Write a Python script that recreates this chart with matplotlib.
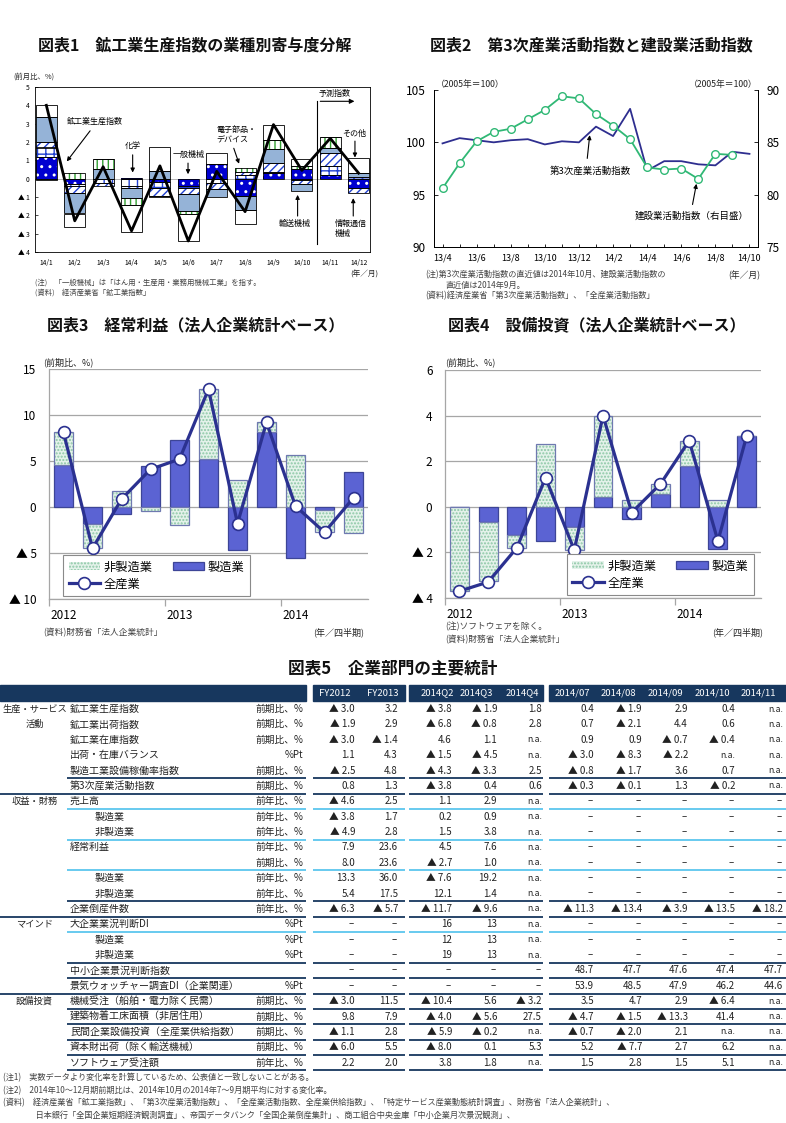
import numpy as np
import matplotlib
matplotlib.use('Agg')
import matplotlib.pyplot as plt
from matplotlib.patches import Rectangle

plt.rcParams['font.family'] = ['Noto Sans CJK JP', 'DejaVu Sans']
plt.rcParams['hatch.linewidth'] = 1.0
plt.rcParams['axes.unicode_minus'] = False

# ---------------- data ----------------
# Chart 1: contributions (%pt), 14/1 .. 14/12
c1_months = ['14/1', '14/2', '14/3', '14/4', '14/5', '14/6', '14/7', '14/8', '14/9', '14/10', '14/11', '14/12']
c1_general = [1.2, -0.3, 0.0, 0.05, -0.2, -0.4, 0.8, -0.95, 0.3, 0.55, 0.2, -0.5]      # 一般機械
c1_chemical = [0.5, -0.1, -0.25, -0.4, -0.3, -0.1, -0.25, 0.2, 0.05, -0.05, 0.5, 0.1]  # 化学
c1_ict = [0.3, -0.4, -0.15, -0.1, -0.45, -0.35, -0.3, 0.15, 0.5, -0.25, 0.7, -0.3]     # 情報通信機械
c1_transport = [1.35, -1.1, 0.55, -0.55, 0.4, -0.9, -0.45, -0.75, 0.75, -0.35, 0.25, 0.2]  # 輸送機械
c1_electronic = [-0.1, 0.3, 0.5, -0.4, -0.05, -0.2, 0.0, 0.25, 0.5, 0.15, 0.6, 0.0]  # 電子部品・デバイス
c1_other = [0.65, -0.75, 0.0, -1.45, 1.3, -1.45, 0.6, -0.8, 0.85, 0.35, 0.0, 0.8]     # その他
c1_total = [4.0, -2.3, 0.65, -2.85, 0.7, -3.4, 0.4, -1.8, 2.95, 0.45, 2.2, 0.3]       # 鉱工業生産指数

# Chart 2
c2_months = ['13/4', '13/5', '13/6', '13/7', '13/8', '13/9', '13/10', '13/11', '13/12',
             '14/1', '14/2', '14/3', '14/4', '14/5', '14/6', '14/7', '14/8', '14/9', '14/10']
c2_tertiary = [99.9, 100.4, 100.2, 100.0, 100.2, 100.3, 99.8, 100.1, 100.0,
               101.5, 100.6, 103.2, 97.3, 98.2, 98.2, 97.9, 97.8, 99.1, 98.9]
c2_construction = [80.6, 83.0, 85.1, 86.0, 86.3, 87.2, 88.1, 89.4, 89.2,
                   87.7, 86.6, 85.3, 82.6, 82.4, 82.5, 81.5, 83.9, 83.8]

# Chart 3 / 4 : quarters 2012Q1 .. 2014Q3
q_years = ['2012', '2013', '2014']
c3_manu = [4.6, -1.8, -0.8, 4.5, 7.3, 5.25, -4.7, 8.2, -5.5, -0.3, 3.8]
c3_nonmanu = [3.5, -2.7, 1.7, -0.4, -2.0, 7.55, 2.9, 1.0, 5.6, -2.45, -2.8]
c3_all = [8.1, -4.5, 0.85, 4.1, 5.2, 12.8, -1.8, 9.2, 0.1, -2.75, 1.0]
c4_manu = [0.0, -0.65, -1.25, -1.5, -0.9, 0.45, -0.55, 0.55, 1.8, -1.85, 3.1]
c4_nonmanu = [-3.7, -2.6, -0.55, 2.75, -1.0, 3.55, 0.3, 0.45, 1.1, 0.3, 0.0]
c4_all = [-3.7, -3.3, -1.8, 1.28, -1.9, 4.0, -0.25, 1.0, 2.9, -1.5, 3.1]

# Table 5
NA = 'n.a.'
t_cols = ['FY2012', 'FY2013', '2014Q2', '2014Q3', '2014Q4', '2014/07', '2014/08', '2014/09', '2014/10', '2014/11']
t_labels = ['鉱工業生産指数', '鉱工業出荷指数', '鉱工業在庫指数', '出荷・在庫バランス', '製造工業設備稼働率指数',
            '第3次産業活動指数', '売上高', '製造業', '非製造業', '経常利益', '', '製造業', '非製造業',
            '企業倒産件数', '大企業業況判断DI', '製造業', '非製造業', '中小企業景況判断指数',
            '景気ウォッチャー調査DI（企業関連）', '機械受注（船舶・電力除く民需）', '建築物着工床面積（非居住用）',
            '民間企業設備投資（全産業供給指数）', '資本財出荷（除く輸送機械）', 'ソフトウェア受注額']
t_indent = [0, 0, 0, 0, 0, 0, 0, 1, 1, 0, 0, 1, 1, 0, 0, 1, 1, 0, 0, 0, 0, 0, 0, 0]
t_units = ['前期比、%', '前期比、%', '前期比、%', '%Pt', '前期比、%', '前期比、%', '前年比、%', '前年比、%',
           '前年比、%', '前年比、%', '前期比、%', '前年比、%', '前年比、%', '前年比、%', '%Pt', '%Pt', '%Pt',
           '', '%Pt', '前期比、%', '前期比、%', '前期比、%', '前期比、%', '前年比、%']
t_groups = {0: '生産・サービス', 1: '活動', 6: '収益・財務', 14: 'マインド', 19: '設備投資'}
D = None
t_fy2012 = [-3.0, -1.9, -3.0, 1.1, -2.5, 0.8, -4.6, -3.8, -4.9, 7.9, 8.0, 13.3, 5.4, -6.3, D, D, D, D, D, -3.0, 9.8, -1.1, -6.0, 2.2]
t_fy2013 = [3.2, 2.9, -1.4, 4.3, 4.8, 1.3, 2.5, 1.7, 2.8, 23.6, 23.6, 36.0, 17.5, -5.7, D, D, D, D, D, 11.5, 7.9, 2.8, 5.5, 2.0]
t_q2 = [-3.8, -6.8, 4.6, -1.5, -4.3, -3.8, 1.1, 0.2, 1.5, 4.5, -2.7, -7.6, 12.1, -11.7, 16, 12, 19, D, D, -10.4, -4.0, -5.9, -8.0, 3.8]
t_q3 = [-1.9, -0.8, 1.1, -4.5, -3.3, 0.4, 2.9, 0.9, 3.8, 7.6, 1.0, 19.2, 1.4, -9.6, 13, 13, 13, D, D, 5.6, -5.6, -0.2, 0.1, 1.8]
t_q4 = [1.8, 2.8, NA, NA, 2.5, 0.6, NA, NA, NA, NA, NA, NA, NA, NA, NA, NA, NA, D, D, -3.2, 27.5, NA, 5.3, NA]
t_m07 = [0.4, 0.7, 0.9, -3.0, -0.8, -0.3, D, D, D, D, D, D, D, -11.3, D, D, D, 48.7, 53.9, 3.5, -4.7, -0.7, 5.2, 1.5]
t_m08 = [-1.9, -2.1, 0.9, -8.3, -1.7, -0.1, D, D, D, D, D, D, D, -13.4, D, D, D, 47.7, 48.5, 4.7, -1.5, -2.0, -7.7, 2.8]
t_m09 = [2.9, 4.4, -0.7, -2.2, 3.6, 1.3, D, D, D, D, D, D, D, -3.9, D, D, D, 47.6, 47.9, 2.9, -13.3, 2.1, 2.7, 1.5]
t_m10 = [0.4, 0.6, -0.4, NA, 0.7, -0.2, D, D, D, D, D, D, D, -13.5, D, D, D, 47.4, 46.2, -6.4, 41.4, NA, 6.2, 5.1]
t_m11 = [NA, NA, NA, NA, NA, NA, D, D, D, D, D, D, D, -18.2, D, D, D, 47.7, 44.6, NA, NA, NA, NA, NA]
t_data = [t_fy2012, t_fy2013, t_q2, t_q3, t_q4, t_m07, t_m08, t_m09, t_m10, t_m11]

# ---------------- figure ----------------
W, H = 786, 1123
fig = plt.figure(figsize=(W / 100, H / 100), dpi=100)
ov = fig.add_axes([0, 0, 1, 1])
ov.set_xlim(0, W)
ov.set_ylim(H, 0)
ov.axis('off')


def add_ax(x0, y0, x1, y1):
    return fig.add_axes([x0 / W, 1 - y1 / H, (x1 - x0) / W, (y1 - y0) / H])


def tri(v):
    if isinstance(v, int):
        return f'▲ {abs(v)}' if v < 0 else f'{v}'
    return f'▲ {abs(v):.1f}' if v < 0 else f'{v:.1f}'


def tri_tick(v):
    return f'▲ {abs(v):g}' if v < 0 else f'{v:g}'


TXT = '#222222'
# titles
ov.text(38, 45, '図表1　鉱工業生産指数の業種別寄与度分解', fontsize=11.5, fontweight='bold', va='center', color='#111')
ov.text(430, 45, '図表2　第3次産業活動指数と建設業活動指数', fontsize=11.5, fontweight='bold', va='center', color='#111')
ov.text(47, 325, '図表3　経常利益（法人企業統計ベース）', fontsize=11.5, fontweight='bold', va='center', color='#111')
ov.text(448, 325, '図表4　設備投資（法人企業統計ベース）', fontsize=11.5, fontweight='bold', va='center', color='#111')
ov.text(393, 668, '図表5　企業部門の主要統計', fontsize=12, fontweight='bold', va='center', ha='center', color='#111')

# ---------------- chart 1 ----------------
ax1 = add_ax(35, 87, 370, 252)
x1 = np.arange(len(c1_months))
pos = np.zeros(len(x1))
neg = np.zeros(len(x1))
c1_styles = [
    (c1_general, '#0000d0', '..', 'white'),
    (c1_chemical, 'white', '++', '#2040d0'),
    (c1_ict, 'white', '////', '#2040d0'),
    (c1_transport, '#95b3d7', None, '#95b3d7'),
    (c1_electronic, 'white', '|||', '#33a033'),
    (c1_other, 'white', None, 'white'),
]
for vals, fc, hatch, hc in c1_styles:
    v = np.asarray(vals, float)
    bottom = np.where(v >= 0, pos, neg)
    ax1.bar(x1, v, 0.74, bottom=bottom, color=fc, edgecolor=hc, hatch=hatch, linewidth=0, zorder=2)
    ax1.bar(x1, v, 0.74, bottom=bottom, fill=False, edgecolor='black', linewidth=0.6, zorder=3)
    pos += np.clip(v, 0, None)
    neg += np.clip(v, None, 0)
ax1.plot(x1, c1_total, color='black', lw=2.0, zorder=4)
ax1.axhline(0, color='#aaaaaa', lw=0.6, zorder=1)
ax1.set_xlim(-0.4, 11.4)
ax1.set_ylim(-4, 5)
ax1.set_yticks(range(-4, 6))
ax1.set_yticklabels([tri_tick(v) for v in range(-4, 6)], fontsize=4.8)
ax1.set_xticks(x1)
ax1.set_xticklabels(c1_months, fontsize=4.8)
ax1.tick_params(axis='y', direction='in', length=2, width=0.5, pad=4)
ax1.tick_params(axis='x', length=0, pad=5)
for s in ax1.spines.values():
    s.set_linewidth(0.6)
# forecast marker
ax1.plot([9.55, 9.55], [-3.55, 4.22], color='black', lw=0.8, zorder=5)
ax1.annotate('', xy=(10.95, 4.22), xytext=(9.55, 4.22),
             arrowprops=dict(arrowstyle='-|>', color='black', lw=0.8, mutation_scale=7), zorder=5)
ax1.text(10.15, 4.62, '予測指数', fontsize=5.8, ha='center', va='center')
arrow_kw = dict(arrowstyle='-|>', color='black', lw=0.8, mutation_scale=6)
ax1.text(1.71, 3.13, '鉱工業生産指数', fontsize=5.8, ha='center', va='center')
ax1.annotate('', xy=(0.66, 0.82), xytext=(1.6, 2.73), arrowprops=arrow_kw)
ax1.text(3.05, 1.82, '化学', fontsize=5.8, ha='center', va='center')
ax1.annotate('', xy=(3.04, 0.18), xytext=(3.04, 1.45), arrowprops=arrow_kw)
ax1.text(5.02, 1.33, '一般機械', fontsize=5.8, ha='center', va='center')
ax1.annotate('', xy=(4.99, 0.09), xytext=(4.99, 1.0), arrowprops=arrow_kw)
ax1.text(6.0, 2.4, '電子部品・\nデバイス', fontsize=5.8, ha='left', va='center', linespacing=1.2)
ax1.annotate('', xy=(6.82, 0.67), xytext=(6.57, 1.8), arrowprops=arrow_kw)
ax1.text(10.83, 2.48, 'その他', fontsize=5.8, ha='center', va='center')
ax1.annotate('', xy=(10.87, 1.0), xytext=(10.87, 2.2), arrowprops=arrow_kw)
ax1.text(8.75, -2.44, '輸送機械', fontsize=5.8, ha='center', va='center')
ax1.annotate('', xy=(8.85, -0.73), xytext=(8.85, -2.19), arrowprops=arrow_kw)
ax1.text(10.16, -2.72, '情報通信\n機械', fontsize=5.8, ha='left', va='center', linespacing=1.2)
ax1.annotate('', xy=(10.81, -0.91), xytext=(10.81, -2.19), arrowprops=arrow_kw)

ov.text(13, 77, '(前月比、%)', fontsize=5.3, va='center', color=TXT)
ov.text(378, 275, '(年／月)', fontsize=5.5, va='center', ha='right', color=TXT)
ov.text(35, 283, '(注)　「一般機械」は「はん用・生産用・業務用機械工業」を指す。', fontsize=5.3, va='center', color='#444')
ov.text(35, 293, '(資料)　経済産業省「鉱工業指数」', fontsize=5.3, va='center', color='#444')

# ---------------- chart 2 ----------------
ax2 = add_ax(434, 90, 758, 247)
x2 = np.arange(len(c2_months))
ax2.plot(x2, c2_tertiary, color='#2e2e8f', lw=1.3, zorder=3)
ax2.set_xlim(-0.5, 18.5)
ax2.set_ylim(90, 105)
ax2.set_yticks([90, 95, 100, 105])
ax2.tick_params(axis='y', labelsize=8.5, direction='in', length=3, width=0.6, pad=6)
ax2.set_xticks(x2[::2])
ax2.set_xticklabels(c2_months[::2], fontsize=6.5)
ax2.set_xticks(x2, minor=True)
ax2.tick_params(axis='x', which='both', direction='in', length=2.5, width=0.6, pad=5)
ax2b = ax2.twinx()
ax2b.plot(x2[:len(c2_construction)], c2_construction, color='#30b875', lw=1.3, marker='o', ms=5.5,
          mfc='white', mec='#30b875', mew=1.0, zorder=4)
ax2b.set_ylim(75, 90)
ax2b.set_yticks([75, 80, 85, 90])
ax2b.tick_params(axis='y', labelsize=8.5, direction='in', length=3, width=0.6, pad=6)
for a in (ax2, ax2b):
    a.spines['top'].set_visible(False)
    for s in ('left', 'right', 'bottom'):
        a.spines[s].set_linewidth(0.7)
ax2.text(8.65, 97.26, '第3次産業活動指数', fontsize=6.8, ha='center', va='center')
ax2.annotate('', xy=(8.65, 100.95), xytext=(8.47, 98.2), arrowprops=arrow_kw)
ax2.text(14.63, 92.96, '建設業活動指数（右目盛）', fontsize=6.8, ha='center', va='center')
ax2.annotate('', xy=(14.92, 96.3), xytext=(14.63, 93.8), arrowprops=arrow_kw)
ov.text(436, 84, '（2005年＝100）', fontsize=6.3, va='center', color=TXT)
ov.text(758, 84, '（2005年＝100）', fontsize=6.3, va='center', ha='right', color=TXT)
ov.text(760, 275, '(年／月)', fontsize=6.3, va='center', ha='right', color=TXT)
ov.text(425, 275, '(注)第3次産業活動指数の直近値は2014年10月、建設業活動指数の', fontsize=5.9, va='center', color='#444')
ov.text(445, 285, '直近値は2014年9月。', fontsize=5.9, va='center', color='#444')
ov.text(425, 296, '(資料)経済産業省「第3次産業活動指数」、「全産業活動指数」', fontsize=5.9, va='center', color='#444')

# ---------------- charts 3 / 4 ----------------
MANU = '#5b63d3'
EDGE = '#3d4597'
LINE = '#2b3190'


def profit_chart(ax, manu, nonmanu, total, ylim, yticks, leg_anchor):
    x = np.arange(len(manu))
    m = np.asarray(manu, float)
    n = np.asarray(nonmanu, float)
    posb = np.clip(m, 0, None)
    negb = np.clip(m, None, 0)
    bottom = np.where(n >= 0, posb, negb)
    for yv in yticks:
        ax.axhline(yv, color='#a6a6a6', lw=0.9, zorder=0)
    hm = ax.bar(x, m, 0.66, color=MANU, edgecolor=EDGE, linewidth=0.9, zorder=2, label='製造業')
    hn = ax.bar(x, n, 0.66, bottom=bottom, color='#e4f2ea', edgecolor='#8cc7a6', hatch='.....',
                linewidth=0, zorder=2, label='非製造業')
    ax.bar(x, n, 0.66, bottom=bottom, fill=False, edgecolor='#6f79b0', linewidth=0.9, zorder=3)
    hl, = ax.plot(x, total, color=LINE, lw=2.3, marker='o', ms=8.5, mfc='white', mec=LINE,
                  mew=1.2, zorder=5, label='全産業')
    ax.set_xlim(-0.5, len(manu) - 0.5)
    ax.set_ylim(*ylim)
    ax.set_yticks(yticks)
    ax.set_yticklabels([tri_tick(v) for v in yticks], fontsize=8.5)
    ax.tick_params(axis='y', length=0, pad=9)
    ax.set_xticks([0, 4, 8])
    ax.set_xticklabels(q_years, fontsize=8.5)
    ax.set_xticks([-0.5, 3.5, 7.5], minor=True)
    ax.tick_params(axis='x', which='major', length=0, pad=7)
    ax.tick_params(axis='x', which='minor', length=5, width=0.9, color='#a6a6a6', direction='out')
    for s in ('top', 'right'):
        ax.spines[s].set_visible(False)
    for s in ('left', 'bottom'):
        ax.spines[s].set_color('#a6a6a6')
        ax.spines[s].set_linewidth(0.9)
    leg = ax.legend(handles=[hn, hl, hm], loc='lower left', bbox_to_anchor=leg_anchor, ncol=2,
                    fontsize=8.8, frameon=True, fancybox=False, edgecolor='#8a8a8a', framealpha=1,
                    borderaxespad=0, handlelength=2.6, handletextpad=0.3, columnspacing=1.6,
                    labelspacing=0.35, borderpad=0.45, numpoints=1)
    leg.get_frame().set_linewidth(0.8)
    leg.set_zorder(6)


ax3 = add_ax(49, 369, 368, 599)
profit_chart(ax3, c3_manu, c3_nonmanu, c3_all, (-10, 15), [-10, -5, 0, 5, 10, 15], (0.044, 0.012))
ax4 = add_ax(445, 370, 761, 598)
profit_chart(ax4, c4_manu, c4_nonmanu, c4_all, (-4, 6), [-4, -2, 0, 2, 4, 6], (0.386, 0.012))

ov.text(43, 362, '(前期比、%)', fontsize=6.5, va='center', color=TXT)
ov.text(445, 362, '(前期比、%)', fontsize=6.5, va='center', color=TXT)
ov.text(43, 633, '(資料)財務省「法人企業統計」', fontsize=6.3, va='center', color='#444')
ov.text(364, 632, '(年／四半期)', fontsize=6.5, va='center', ha='right', color=TXT)
ov.text(445, 627, '(注)ソフトウェアを除く。', fontsize=6.3, va='center', color='#444')
ov.text(445, 640, '(資料)財務省「法人企業統計」', fontsize=6.3, va='center', color='#444')
ov.text(763, 632, '(年／四半期)', fontsize=6.5, va='center', ha='right', color=TXT)

# ---------------- table ----------------
NAVY = '#17375e'
CYAN = '#5cc6ee'
ROW0, DY = 709.0, 15.38
blocks = [(0, 306), (313, 405), (409, 543), (549, 786)]
col_right = [355, 398, 452, 497, 542, 594, 642, 688, 735, 783]
col_center = [335, 383, 437, 476, 522, 572, 618, 665, 712, 758]
for a, b in blocks:
    ov.add_patch(Rectangle((a, 685), b - a, 16, color=NAVY, zorder=1))
for c, lab in zip(col_center, t_cols):
    ov.text(c, 693, lab, fontsize=6.8, color='white', ha='center', va='center')

for i, lab in enumerate(t_labels):
    y = ROW0 + i * DY
    ov.text(95 if t_indent[i] else 70, y, lab, fontsize=7.2, va='center', color=TXT)
    ov.text(303, y, t_units[i], fontsize=7.0, va='center', ha='right', color=TXT)
    for cr, col in zip(col_right, t_data):
        v = col[i]
        if v is None:
            ov.text(cr - 1, y, '–', fontsize=7.0, va='center', ha='right', color=TXT)
        elif isinstance(v, str):
            ov.text(cr, y, v, fontsize=6.3, va='center', ha='right', color=TXT)
        else:
            ov.text(cr, y, tri(v), fontsize=7.0, va='center', ha='right', color=TXT)
for i, g in t_groups.items():
    ov.text(34.5, ROW0 + i * DY, g, fontsize=6.7, va='center', ha='center', color=TXT)

# separators: (after row index, colour, left start)
t_lines = [(4, NAVY, 67), (5, NAVY, 0), (6, CYAN, 67), (8, CYAN, 67), (10, CYAN, 67), (12, NAVY, 67),
           (13, NAVY, 0), (14, CYAN, 67), (16, NAVY, 67), (17, NAVY, 67), (18, NAVY, 0), (19, NAVY, 67),
           (20, NAVY, 67), (21, NAVY, 67), (22, NAVY, 67), (23, NAVY, 67)]
for r, colr, x0 in t_lines:
    y = ROW0 + r * DY + DY / 2
    segs = [(x0, 306)] + blocks[1:]
    for a, b in segs:
        ov.plot([a, b], [y, y], color=colr, lw=1.3, solid_capstyle='butt')

notes = ['(注1)　実数データより変化率を計算しているため、公表値と一致しないことがある。',
         '(注2)　2014年10～12月期前期比は、2014年10月の2014年7～9月期平均に対する変化率。',
         '(資料)　経済産業省「鉱工業指数」、「第3次産業活動指数」、「全産業活動指数、全産業供給指数」、「特定サービス産業動態統計調査」、財務省「法人企業統計」、',
         '　　　　日本銀行「全国企業短期経済観測調査」、帝国データバンク「全国企業倒産集計」、商工組合中央金庫「中小企業月次景況観測」、']
for yy, t in zip([1078, 1091, 1103, 1115], notes):
    ov.text(3, yy, t, fontsize=5.9, va='center', color='#444')

fig.savefig('out.png', dpi=100)
